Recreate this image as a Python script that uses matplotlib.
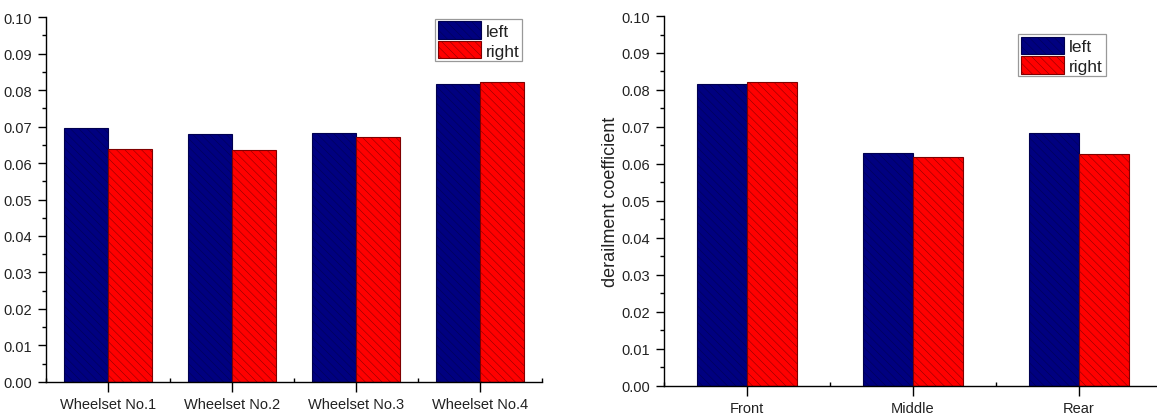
import matplotlib
matplotlib.use("Agg")
import matplotlib.pyplot as plt
from matplotlib.ticker import MultipleLocator, FixedLocator
import numpy as np

plt.rcParams['font.family'] = ['Liberation Sans', 'DejaVu Sans']
plt.rcParams['hatch.linewidth'] = 0.35

# left chart: per wheelset
wheelsets = ['Wheelset No.1', 'Wheelset No.2', 'Wheelset No.3', 'Wheelset No.4']
wheel_left = [0.0696, 0.0679, 0.0681, 0.0817]
wheel_right = [0.0639, 0.0636, 0.0670, 0.0821]

# right chart: per bogie position
positions = ['Front', 'Middle', 'Rear']
pos_left = [0.0817, 0.0629, 0.0683]
pos_right = [0.0822, 0.0618, 0.0627]

series_names = ['left', 'right']
navy = '#000080'
red = '#ff0000'


def bar_panel(ax, cats, lv, rv, width, ylabel=None, leg_anchor=(0.78, 1.0)):
    x = np.arange(1, len(cats) + 1)
    ax.bar(x - width / 2, lv, width, color=navy, edgecolor='#000050',
           linewidth=0.8, hatch='\\\\\\\\', label=series_names[0])
    ax.bar(x + width / 2, rv, width, color=red, edgecolor='#800000',
           linewidth=0.8, hatch='\\\\\\\\', label=series_names[1])
    ax.set_xlim(0.5, len(cats) + 0.5)
    ax.set_ylim(0, 0.10)
    ax.yaxis.set_major_locator(MultipleLocator(0.01))
    ax.yaxis.set_minor_locator(MultipleLocator(0.005))
    ax.yaxis.set_major_formatter(matplotlib.ticker.FormatStrFormatter('%.2f'))
    ax.set_xticks(x)
    ax.set_xticklabels(cats)
    ax.xaxis.set_minor_locator(FixedLocator(np.arange(0.5, len(cats) + 1, 1.0)))
    ax.tick_params(axis='y', which='major', direction='out', length=6, width=1,
                   labelsize=10.5, labelcolor='#222222', pad=4)
    ax.tick_params(axis='y', which='minor', direction='out', length=3, width=1)
    ax.tick_params(axis='x', which='major', direction='out', length=7, width=1,
                   labelsize=10.5, labelcolor='#222222', pad=4)
    ax.tick_params(axis='x', which='minor', direction='in', length=3, width=1)
    for s in ['top', 'right']:
        ax.spines[s].set_visible(False)
    for s in ['left', 'bottom']:
        ax.spines[s].set_linewidth(1.0)
    if ylabel:
        ax.set_ylabel(ylabel, fontsize=13, color='#222222', labelpad=2)
    leg = ax.legend(loc='upper left', bbox_to_anchor=leg_anchor, fontsize=12.5,
                    frameon=True, fancybox=False, edgecolor='#808080',
                    handlelength=2.5, handleheight=1.15, labelspacing=0.12,
                    borderpad=0.15, handletextpad=0.3, borderaxespad=0)
    leg.get_frame().set_linewidth(0.9)
    for t in leg.get_texts():
        t.set_color('#222222')


fig = plt.figure(figsize=(11.57, 4.14), dpi=100)
ax1 = fig.add_axes([0.0398, 0.0749, 0.4287, 0.8816])
ax2 = fig.add_axes([0.5739, 0.0659, 0.4304, 0.8930])

bar_panel(ax1, wheelsets, wheel_left, wheel_right, 0.356, leg_anchor=(0.784, 0.995))
bar_panel(ax2, positions, pos_left, pos_right, 0.30,
          ylabel='derailment coefficient', leg_anchor=(0.711, 0.951))

fig.savefig('out.png', dpi=100)
